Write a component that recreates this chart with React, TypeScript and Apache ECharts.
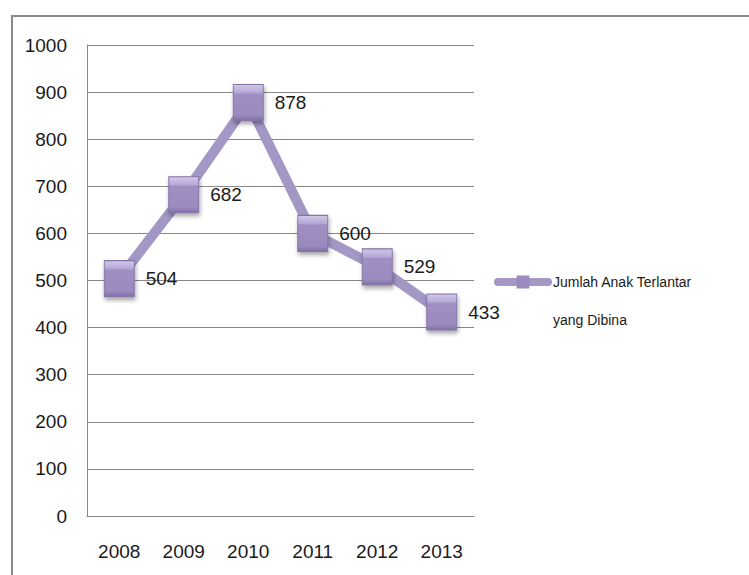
import React, { useEffect, useRef } from "react";
import * as echarts from "echarts";

const years = ["2008", "2009", "2010", "2011", "2012", "2013"];
const values = [504, 682, 878, 600, 529, 433];
const seriesName = "Jumlah Anak Terlantar\nyang Dibina";

const FONT = "'Liberation Sans', Arial, sans-serif";

export default function App() {
  const ref = useRef<HTMLDivElement>(null);
  useEffect(() => {
    if (!ref.current) return;
    const chart = echarts.init(ref.current, null, { renderer: "svg" });
    const markerFill = new echarts.graphic.LinearGradient(0, 0, 0, 1, [
      { offset: 0, color: "#d3c9e8" },
      { offset: 0.22, color: "#b6a8d6" },
      { offset: 0.27, color: "#9f8fc2" },
      { offset: 0.85, color: "#9a8abd" },
      { offset: 1, color: "#7f6fa2" },
    ]);
    chart.setOption({
      animation: false,
      backgroundColor: "#ffffff",
      grid: { left: 87, right: 275, top: 45, bottom: 59, containLabel: false },
      xAxis: {
        type: "category",
        data: years,
        boundaryGap: true,
        axisLine: { show: true, lineStyle: { color: "#888888", width: 1 } },
        axisTick: { show: false },
        axisLabel: {
          color: "#1a1a1a",
          fontSize: 19,
          fontFamily: FONT,
          margin: 26,
          interval: 0,
        },
      },
      yAxis: {
        type: "value",
        min: 0,
        max: 1000,
        interval: 100,
        axisLine: { show: true, lineStyle: { color: "#888888", width: 1 } },
        axisTick: { show: false },
        axisLabel: {
          color: "#1a1a1a",
          fontSize: 19,
          fontFamily: FONT,
          margin: 20,
          formatter: (v: number) => String(v),
        },
        splitLine: { show: true, lineStyle: { color: "#888888", width: 1 } },
      },
      legend: {
        show: true,
        left: 494,
        top: 225,
        padding: 0,
        orient: "vertical",
        itemWidth: 50,
        itemHeight: 16,
        itemGap: 5,
        selectedMode: false,
        data: [{ name: seriesName }],
        formatter: (name: string) => "\n" + name,
        lineStyle: { width: 8, cap: "round", color: "#a397c6" },
        itemStyle: { color: "#9a8abd", borderWidth: 0 },
        textStyle: {
          color: "#1a1a1a",
          fontSize: 14,
          fontFamily: FONT,
          lineHeight: 38,
        },
      },
      graphic: [
        {
          type: "rect",
          silent: true,
          shape: { x: 12, y: 16, width: 900, height: 700 },
          style: { fill: "none", stroke: "#8a8a8a", lineWidth: 2 },
        },
      ],
      series: [
        {
          name: seriesName,
          type: "line",
          data: values,
          symbol: "rect",
          symbolSize: [30, 36],
          lineStyle: { color: "#a397c6", width: 10, cap: "round", join: "round" },
          itemStyle: {
            color: markerFill,
            borderColor: "#8473a8",
            borderWidth: 1,
            shadowColor: "rgba(0,0,0,0.35)",
            shadowBlur: 4,
            shadowOffsetY: 3,
            shadowOffsetX: 1,
          },
          label: {
            show: true,
            position: "right",
            distance: 11,
            color: "#1a1a1a",
            fontSize: 19,
            fontFamily: FONT,
          },
          z: 3,
        },
      ],
    });
    return () => chart.dispose();
  }, []);
  return (
    <div
      ref={ref}
      style={{ position: "fixed", left: 0, top: 0, width: 749, height: 575 }}
    />
  );
}
